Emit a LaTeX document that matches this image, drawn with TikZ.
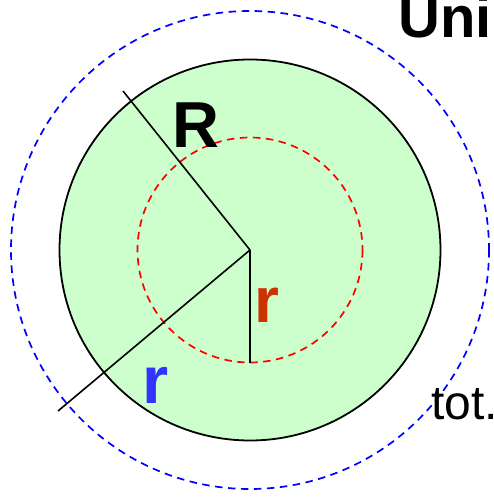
\documentclass[tikz,border=0pt]{standalone}
\usepackage{fontspec}
\setmainfont{Liberation Sans}
\definecolor{fillgreen}{HTML}{CCFFCC}
\definecolor{dashblue}{HTML}{0000FF}
\definecolor{dashred}{HTML}{FF0000}
\definecolor{textblue}{HTML}{3333FF}
\definecolor{textred}{HTML}{CC3300}
\begin{document}
\begin{tikzpicture}[x=1pt,y=-1pt,
  outline/.style={line width=1.8pt},
  radius line/.style={line width=1.6pt},
  dashedcircle/.style={line width=1.7pt, dash pattern=on 7.5pt off 5.5pt},
  lbl/.style={inner sep=0pt, anchor=base west}]
\useasboundingbox (0,0) rectangle (493,501);
\clip (0,0) rectangle (493,501);
\coordinate (c) at (250,250);
\draw[dashedcircle, dashblue] (c) circle[radius=239];
\draw[outline, fill=fillgreen] (c) circle[radius=190.5];
\draw[dashedcircle, dashred] (c) circle[radius=112.5];
\coordinate (Rend) at (123,91);
\coordinate (bend) at (58,411);
\coordinate (rend) at (250,363);
\draw[radius line] (c) -- (Rend);
\draw[radius line] (c) -- (bend);
\draw[radius line] (c) -- (rend);
\node[lbl, font=\bfseries\fontsize{65}{65}\selectfont] (R) at (172,147) {R};
\node[lbl, font=\bfseries\fontsize{67}{67}\selectfont, text=textblue] (rb) at (142,403) {r};
\node[lbl, font=\bfseries\fontsize{64}{64}\selectfont, text=textred] (rr) at (254,322) {r};
\node[lbl, font=\bfseries\fontsize{58}{58}\selectfont] (uni) at (398,37) {Uni};
\node[lbl, font=\fontsize{48}{48}\selectfont] (tot) at (431,419) {tot.};
\end{tikzpicture}
\end{document}
